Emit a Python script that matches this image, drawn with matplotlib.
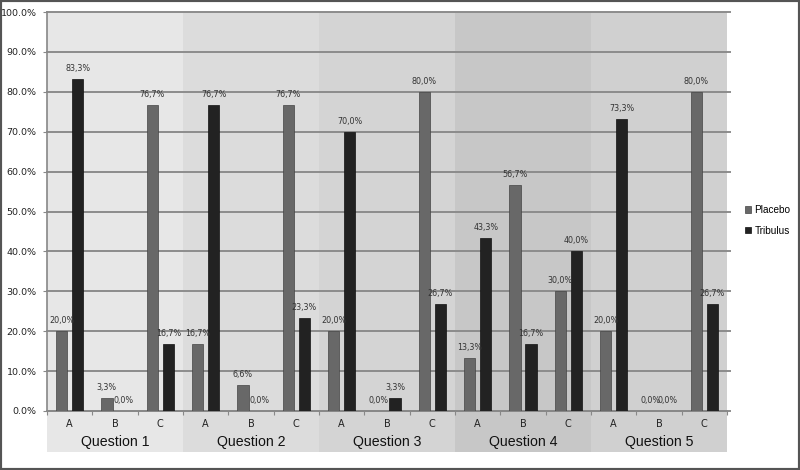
import numpy as np
import matplotlib
matplotlib.use("Agg")
from matplotlib import pyplot as plt
from matplotlib.patches import Rectangle
from matplotlib.transforms import blended_transform_factory

questions = ["Question 1", "Question 2", "Question 3", "Question 4", "Question 5"]
answers = ["A", "B", "C"]
placebo = [20.0, 3.3, 76.7, 16.7, 6.6, 76.7, 20.0, 0.0, 80.0, 13.3, 56.7, 30.0, 20.0, 0.0, 80.0]
tribulus = [83.3, 0.0, 16.7, 76.7, 0.0, 23.3, 70.0, 3.3, 26.7, 43.3, 16.7, 40.0, 73.3, 0.0, 26.7]
band_colors = ["#e7e7e7", "#dcdcdc", "#d4d4d4", "#c7c7c7", "#d0d0d0"]

fig = plt.figure(figsize=(8, 4.7), dpi=100)
fig.patch.set_facecolor("white")

# background axes holding the question bands (they reach down over the labels)
bg = fig.add_axes([47 / 800, 1 - 452 / 470, 680 / 800, 440 / 470], zorder=0)
bg.set_xlim(-0.5, 14.5)
bg.set_ylim(0, 1)
bg.axis("off")
for i, c in enumerate(band_colors):
    bg.axvspan(i * 3 - 0.5, i * 3 + 2.5, color=c, lw=0)

ax = fig.add_axes([47 / 800, 1 - 411 / 470, 680 / 800, 399 / 470], zorder=1)
ax.set_facecolor("none")

n = len(placebo)
x = np.arange(n)
w = 0.25
off = 0.18

for y in np.arange(0, 101, 10):
    ax.plot([-0.5, 14.57], [y, y], color="#8c8c8c", lw=1.4, zorder=1, clip_on=False)

ax.bar(x - off, placebo, w, color="#686868", edgecolor="#444444", lw=0.5, zorder=3, label="Placebo")
ax.bar(x + off, tribulus, w, color="#222222", edgecolor="#111111", lw=0.5, zorder=3, label="Tribulus")

for xi, p, t in zip(x, placebo, tribulus):
    ax.text(xi - off, p + 1.5, f"{p:.1f}%".replace(".", ","), ha="center", va="bottom",
            fontsize=5.8, color="#333333", zorder=4)
    ax.text(xi + off, t + 1.5, f"{t:.1f}%".replace(".", ","), ha="center", va="bottom",
            fontsize=5.8, color="#333333", zorder=4)

ax.set_xlim(-0.5, 14.5)
ax.set_ylim(0, 100)
ax.set_yticks(np.arange(0, 101, 10))
ax.set_yticklabels([f"{v:.1f}%" for v in np.arange(0, 101, 10)], fontsize=6.8, color="#222222")
ax.set_xticks(np.arange(-0.5, 15, 1))
ax.set_xticklabels([])
ax.tick_params(axis="x", length=3, color="#888888", direction="out")
ax.tick_params(axis="y", length=3, color="#888888", direction="out", pad=4.5)
for s in ["top", "right"]:
    ax.spines[s].set_visible(False)
ax.spines["left"].set_color("#888888")
ax.spines["bottom"].set_color("#888888")
ax.spines["left"].set_linewidth(1.2)
ax.spines["bottom"].set_linewidth(1.2)

trans = blended_transform_factory(ax.transData, fig.transFigure)
for i in range(n):
    ax.text(i, 1 - 424 / 470, answers[i % 3], transform=trans,
            ha="center", va="center", fontsize=7, color="#222222")
for q, name in enumerate(questions):
    ax.text(q * 3 + 1, 1 - 442 / 470, name, transform=trans, family="Liberation Sans",
            ha="center", va="center", fontsize=10.2, color="#111111")

fig.legend(loc="upper left", bbox_to_anchor=(741 / 800, 1 - 201 / 470), frameon=False,
           prop={"family": "Liberation Sans", "size": 7.2},
           handlelength=0.6, handleheight=0.6, handletextpad=0.35, labelspacing=1.05,
           borderaxespad=0)

fig.patches.append(Rectangle((0, 0), 1, 1, transform=fig.transFigure, fill=False,
                             edgecolor="#555555", lw=3, zorder=10))

plt.savefig("out.png", dpi=100)
